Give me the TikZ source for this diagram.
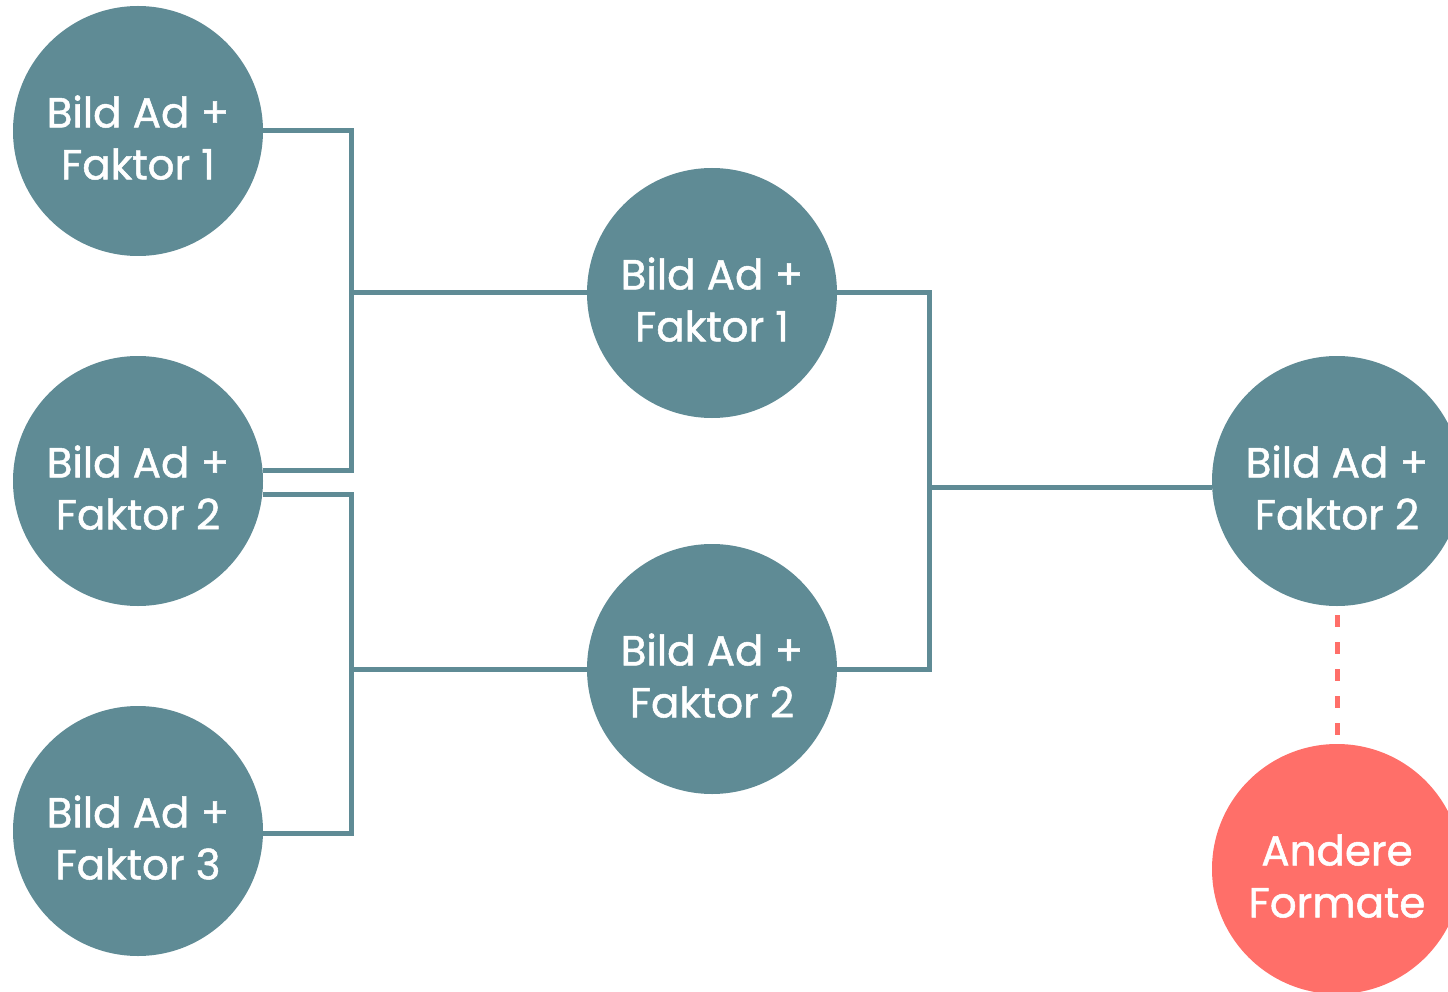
\documentclass[tikz,border=0pt]{standalone}
\usepackage{fontspec}
\setmainfont{Poppins}
\newfontfamily\bubfont{Poppins}[FakeBold=1.2]
\definecolor{teal}{HTML}{5F8B95}
\definecolor{coral}{HTML}{FF6F69}
\newcommand{\bubtext}[2]{\raisebox{-12pt}[\height][\depth]{\begin{tabular}{@{}c@{}}#1\\#2\end{tabular}}}
\begin{document}
\begin{tikzpicture}[x=1pt,y=-1pt,
  bub/.style={circle,fill=teal,minimum size=250pt,inner sep=0pt,text=white,
    font=\bubfont\fontsize{42}{52}\selectfont,align=center},
  redbub/.style={bub,fill=coral},
  conn/.style={draw=teal,line width=5pt},
  dashconn/.style={draw=coral,line width=5pt,dash pattern=on 12pt off 15pt}]
\useasboundingbox (0,0) rectangle (1448,992);
\node[bub] (a1) at (138,131) {\bubtext{Bild Ad +}{Faktor 1}};
\node[bub] (a2) at (138,481) {\bubtext{Bild Ad +}{Faktor 2}};
\node[bub] (a3) at (138,831) {\bubtext{Bild Ad +}{Faktor 3}};
\node[bub] (b1) at (712,293) {\bubtext{Bild Ad +}{Faktor 1}};
\node[bub] (b2) at (712,669) {\bubtext{Bild Ad +}{Faktor 2}};
\node[bub] (c1) at (1337,481) {\bubtext{Bild Ad +}{Faktor 2}};
\node[redbub] (d1) at (1337,869) {\bubtext{Andere}{Formate}};
\coordinate (j1) at (351,293);
\coordinate (j2) at (351,669);
\coordinate (j3) at (929,487);
\draw[conn] (a1.east) -| (351,470) -- (a2.east |- 0,470);
\draw[conn] (j1) -- (b1.west);
\draw[conn] (a2.east |- 0,494) -| (351,833) -- (a3.east |- 0,833);
\draw[conn] (j2) -- (b2.west);
\draw[conn] (b1.east) -| (929,669) -- (b2.east);
\draw[conn] (j3) -- (c1.west |- j3);
\draw[dashconn] (1337,615) -- (1337,738);
\end{tikzpicture}
\end{document}
